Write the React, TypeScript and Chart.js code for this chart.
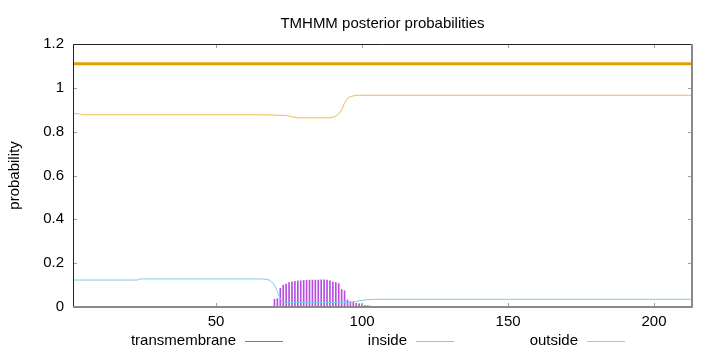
import React, { useEffect, useRef } from "react";
import { Chart, registerables } from "chart.js";

Chart.register(...registerables);

// ---- data ----
const TITLE = "TMHMM posterior probabilities";
const Y_LABEL = "probability";
const X_MIN = 1;
const X_MAX = 213;
const X_TICKS = [50, 100, 150, 200];
const Y_TICKS = [0, 0.2, 0.4, 0.6, 0.8, 1, 1.2];

// transmembrane posterior (impulses), residues TM_START ..
const TM_START = 70;
const tmValues = [
  0.035, 0.038, 0.085, 0.1, 0.105, 0.111, 0.114, 0.117, 0.119, 0.12,
  0.121, 0.122, 0.123, 0.123, 0.123, 0.123, 0.124, 0.124, 0.123, 0.119,
  0.114, 0.112, 0.107, 0.08, 0.074, 0.032, 0.023, 0.021, 0.017, 0.014,
  0.015, 0.008, 0.006, 0.004, 0.003,
];

// inside posterior (breakpoints of the curve)
const insidePos = [1, 23, 24, 66, 68, 69, 70, 71, 72, 73, 74, 95, 96, 98, 100, 102, 104, 213];
const insideVal = [0.123, 0.123, 0.128, 0.128, 0.124, 0.115, 0.1, 0.07, 0.035, 0.024, 0.021, 0.021, 0.023, 0.026, 0.03, 0.034, 0.035, 0.035];

// outside posterior (breakpoints of the curve)
const outsidePos = [1, 3, 4, 66, 74, 76, 78, 89, 90, 91, 92, 93, 94, 95, 96, 98, 213];
const outsideVal = [0.882, 0.882, 0.877, 0.877, 0.874, 0.868, 0.863, 0.863, 0.866, 0.871, 0.88, 0.9, 0.93, 0.952, 0.96, 0.966, 0.966];

// predicted topology line (outside for the whole sequence)
const predictedPos = [1, 213];
const predictedVal = [1.11, 1.11];

const LEGEND = ["transmembrane", "inside", "outside"];
const COLORS = {
  tm: "#b64fe0",
  inside: "#7fcbef",
  outside: "#f0bb4a",
  predicted: "#e69f00",
};

const FONT = "'Liberation Sans', Arial, sans-serif";

export default function App() {
  const ref = useRef<HTMLCanvasElement | null>(null);

  useEffect(() => {
    const canvas = ref.current;
    if (!canvas) return;

    const decor = {
      id: "decor",
      afterDatasetsDraw(chart: any) {
        const { ctx, chartArea: a, scales } = chart;
        const xs = scales.x;
        const ys = scales.y;
        ctx.save();
        // ticks (inward, mirrored)
        ctx.strokeStyle = "#a0a0a0";
        ctx.lineWidth = 1;
        const tl = 4;
        X_TICKS.forEach((t) => {
          const px = Math.round(xs.getPixelForValue(t)) + 0.5;
          ctx.beginPath();
          ctx.moveTo(px, a.bottom);
          ctx.lineTo(px, a.bottom - tl);
          ctx.moveTo(px, a.top);
          ctx.lineTo(px, a.top + tl);
          ctx.stroke();
        });
        Y_TICKS.forEach((t) => {
          const py = Math.round(ys.getPixelForValue(t)) + 0.5;
          ctx.beginPath();
          ctx.moveTo(a.left, py);
          ctx.lineTo(a.left + tl, py);
          ctx.moveTo(a.right, py);
          ctx.lineTo(a.right - tl, py);
          ctx.stroke();
        });
        // borders
        ctx.strokeStyle = "#222";
        ctx.beginPath();
        ctx.moveTo(Math.round(a.left) + 0.5, Math.round(a.bottom));
        ctx.lineTo(Math.round(a.left) + 0.5, Math.round(a.top) + 0.5);
        ctx.lineTo(Math.round(a.right), Math.round(a.top) + 0.5);
        ctx.stroke();
        ctx.strokeStyle = "#8a8a8a";
        ctx.lineWidth = 2;
        ctx.beginPath();
        ctx.moveTo(Math.round(a.left), Math.round(a.bottom));
        ctx.lineTo(Math.round(a.right), Math.round(a.bottom));
        ctx.lineTo(Math.round(a.right), Math.round(a.top));
        ctx.stroke();

        // title
        ctx.fillStyle = "#000";
        ctx.font = `15px ${FONT}`;
        ctx.textAlign = "center";
        ctx.textBaseline = "alphabetic";
        ctx.fillText(TITLE, (a.left + a.right) / 2, 27.5);

        // y label
        ctx.save();
        ctx.translate(15, (a.top + a.bottom) / 2);
        ctx.rotate(-Math.PI / 2);
        ctx.textAlign = "center";
        ctx.textBaseline = "middle";
        ctx.fillText(Y_LABEL, 0, 0);
        ctx.restore();

        // legend (gnuplot style: text then sample line)
        const cols = [COLORS.tm, COLORS.inside, COLORS.outside];
        const textEnds = [236, 407, 578];
        const ly = 341;
        ctx.textAlign = "right";
        ctx.textBaseline = "middle";
        LEGEND.forEach((name, i) => {
          ctx.fillStyle = "#000";
          ctx.fillText(name, textEnds[i], ly);
          ctx.strokeStyle = cols[i];
          ctx.lineWidth = 1;
          ctx.beginPath();
          ctx.moveTo(textEnds[i] + 9, ly + 0.5);
          ctx.lineTo(textEnds[i] + 47, ly + 0.5);
          ctx.stroke();
        });
        ctx.restore();
      },
    };

    const chart = new Chart(canvas, {
      type: "line",
      data: {
        datasets: [
          {
            type: "line",
            label: "predicted",
            data: predictedPos.map((x, i) => ({ x, y: predictedVal[i] })),
            borderColor: COLORS.predicted,
            borderWidth: 3,
            pointRadius: 0,
            order: 1,
          },
          {
            type: "line",
            label: LEGEND[2],
            data: outsidePos.map((x, i) => ({ x, y: outsideVal[i] })),
            borderColor: COLORS.outside,
            borderWidth: 1,
            pointRadius: 0,
            order: 2,
          },
          {
            type: "line",
            label: LEGEND[1],
            data: insidePos.map((x, i) => ({ x, y: insideVal[i] })),
            borderColor: COLORS.inside,
            borderWidth: 1,
            pointRadius: 0,
            order: 3,
          },
          {
            type: "bar",
            label: LEGEND[0],
            data: tmValues.map((y, i) => ({ x: TM_START + i, y })),
            backgroundColor: COLORS.tm,
            barThickness: 1,
            borderWidth: 0,
            order: 4,
          } as any,
        ],
      },
      options: {
        animation: false,
        responsive: false,
        devicePixelRatio: 1,
        layout: { padding: { left: 0, right: 28, top: 44, bottom: 0 } },
        plugins: {
          legend: { display: false },
          title: { display: false },
          tooltip: { enabled: false },
        },
        scales: {
          x: {
            type: "linear",
            min: X_MIN,
            max: X_MAX,
            offset: false,
            grid: { display: false, drawTicks: false },
            border: { display: false },
            afterBuildTicks: (s: any) => {
              s.ticks = X_TICKS.map((v) => ({ value: v }));
            },
            afterFit: (s: any) => {
              s.height = 45;
            },
            ticks: {
              autoSkip: false,
              maxRotation: 0,
              padding: 6,
              color: "#000",
              font: { family: FONT, size: 15 },
              callback: (v: any) => String(v),
            },
          },
          y: {
            type: "linear",
            min: 0,
            max: 1.2,
            grid: { display: false, drawTicks: false },
            border: { display: false },
            afterBuildTicks: (s: any) => {
              s.ticks = Y_TICKS.map((v) => ({ value: v }));
            },
            afterFit: (s: any) => {
              s.width = 73;
            },
            ticks: {
              padding: 9,
              color: "#000",
              font: { family: FONT, size: 15 },
              callback: (v: any) => String(Number(Number(v).toFixed(1))),
            },
          },
        },
      },
      plugins: [decor],
    });

    return () => chart.destroy();
  }, []);

  return (
    <div style={{ position: "absolute", left: 0, top: 0, width: 720, height: 352, background: "#fff" }}>
      <canvas ref={ref} width={720} height={352} style={{ width: 720, height: 352, display: "block" }} />
    </div>
  );
}
